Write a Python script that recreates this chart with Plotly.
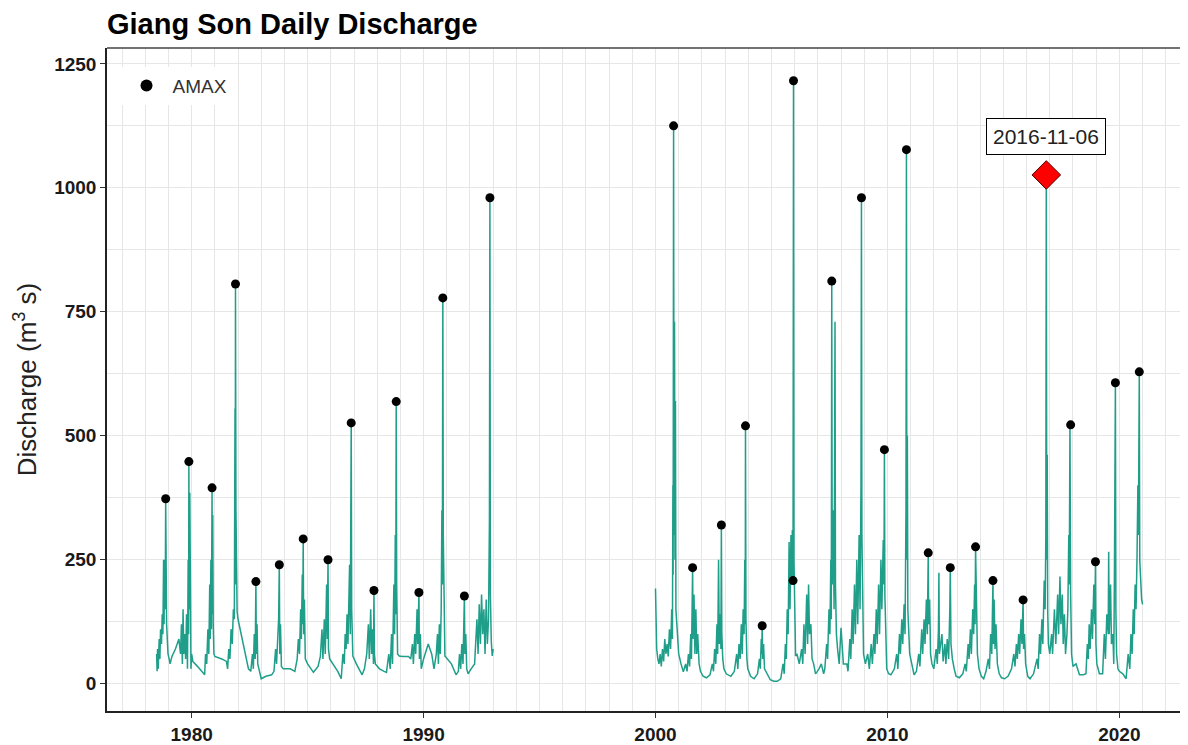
import plotly.graph_objects as go

# ---- daily discharge (hand-read approximation), period 1 ----
t1 = [1978.49, 1978.51, 1978.53, 1978.56, 1978.60, 1978.63, 1978.66, 1978.70, 1978.73, 1978.76,
      1978.79, 1978.81, 1978.84, 1978.86, 1978.88, 1978.90, 1978.92, 1978.95, 1978.98, 1979.03,
      1979.07, 1979.15, 1979.30, 1979.45, 1979.52, 1979.56, 1979.60, 1979.63, 1979.66, 1979.70,
      1979.74, 1979.78, 1979.82, 1979.85, 1979.87, 1979.88, 1979.90, 1979.92, 1979.94, 1979.97,
      1980.00, 1980.05, 1980.25, 1980.50, 1980.56, 1980.60, 1980.65, 1980.70, 1980.74, 1980.78,
      1980.80, 1980.83, 1980.85, 1980.88, 1980.89, 1980.91, 1980.93, 1980.96, 1981.00, 1981.30,
      1981.50, 1981.55, 1981.60, 1981.65, 1981.70, 1981.75, 1981.80, 1981.84, 1981.87, 1981.88,
      1981.89, 1981.91, 1981.93, 1981.96, 1982.00, 1982.25, 1982.45, 1982.55, 1982.62, 1982.66,
      1982.70, 1982.74, 1982.77, 1982.79, 1982.82, 1982.85, 1982.90, 1983.00, 1983.20, 1983.45,
      1983.55, 1983.62, 1983.66, 1983.70, 1983.75, 1983.78, 1983.80, 1983.83, 1983.87, 1983.95,
      1984.25, 1984.45, 1984.55, 1984.60, 1984.65, 1984.70, 1984.73, 1984.77, 1984.79, 1984.81,
      1984.83, 1984.86, 1984.90, 1985.00, 1985.25, 1985.45, 1985.55, 1985.62, 1985.66, 1985.72,
      1985.76, 1985.82, 1985.85, 1985.88, 1985.90, 1985.95, 1986.10, 1986.30, 1986.45, 1986.52,
      1986.58, 1986.62, 1986.66, 1986.70, 1986.74, 1986.78, 1986.81, 1986.84, 1986.88, 1986.90,
      1986.92, 1986.95, 1987.10, 1987.35, 1987.45, 1987.55, 1987.62, 1987.66, 1987.72, 1987.76,
      1987.80, 1987.84, 1987.86, 1987.88, 1987.92, 1988.10, 1988.30, 1988.40, 1988.50, 1988.56,
      1988.62, 1988.66, 1988.72, 1988.75, 1988.78, 1988.80, 1988.82, 1988.84, 1988.88, 1988.95,
      1989.10, 1989.35, 1989.45, 1989.52, 1989.56, 1989.62, 1989.66, 1989.72, 1989.75, 1989.80,
      1989.82, 1989.86, 1989.90, 1990.00, 1990.20, 1990.35, 1990.45, 1990.55, 1990.60, 1990.64,
      1990.68, 1990.72, 1990.76, 1990.79, 1990.81, 1990.83, 1990.85, 1990.88, 1990.92, 1991.20,
      1991.40, 1991.50, 1991.55, 1991.60, 1991.65, 1991.70, 1991.76, 1991.78, 1991.82, 1991.86,
      1991.92, 1992.05, 1992.20, 1992.30, 1992.35, 1992.40, 1992.45, 1992.50, 1992.55, 1992.60,
      1992.65, 1992.70, 1992.75, 1992.80, 1992.84, 1992.86, 1992.88, 1992.92, 1992.96, 1993.00]
q1 = [60, 25, 70, 30, 90, 50, 110, 80, 140, 100,
      250, 120, 250, 150, 373, 180, 120, 90, 60, 50,
      40, 55, 70, 90, 60, 120, 40, 150, 60, 100,
      50, 140, 30, 250, 100, 448, 150, 385, 80, 30,
      60, 45, 35, 20, 18, 60, 40, 110, 60, 200,
      90, 250, 110, 395, 140, 340, 120, 60, 55, 50,
      45, 30, 70, 50, 110, 80, 150, 130, 555, 200,
      808, 350, 200, 145, 130, 70, 30, 25, 60, 30,
      100, 50, 207, 60, 120, 40, 30, 10, 15, 18,
      25, 70, 40, 100, 130, 240, 60, 120, 35, 30,
      30, 25, 50, 90, 60, 150, 90, 220, 120, 292,
      100, 170, 50, 40, 23, 35, 55, 110, 50, 130,
      60, 200, 90, 250, 70, 50, 40, 25, 10, 60,
      40, 100, 70, 140, 80, 160, 240, 100, 527, 150,
      90, 56, 40, 18, 30, 60, 120, 50, 150, 60,
      110, 40, 188, 60, 40, 30, 25, 23, 60, 30,
      100, 40, 200, 100, 300, 140, 570, 200, 60, 56,
      55, 55, 50, 80, 40, 100, 60, 150, 80, 185,
      50, 100, 30, 50, 80, 60, 30, 60, 100, 40,
      120, 60, 150, 350, 200, 778, 300, 150, 56, 40,
      18, 25, 60, 30, 80, 40, 177, 60, 100, 30,
      20, 30, 40, 130, 60, 160, 80, 180, 100, 150,
      60, 170, 80, 130, 330, 980, 180, 85, 56, 70]

# ---- daily discharge (hand-read approximation), period 2 ----
t2 = [2000.00, 2000.02, 2000.05, 2000.10, 2000.15, 2000.20, 2000.25, 2000.30, 2000.35, 2000.40,
      2000.45, 2000.50, 2000.55, 2000.60, 2000.65, 2000.70, 2000.73, 2000.75, 2000.76, 2000.78,
      2000.80, 2000.82, 2000.84, 2000.86, 2000.88, 2000.92, 2000.96, 2001.00, 2001.10, 2001.20,
      2001.30, 2001.36, 2001.42, 2001.47, 2001.52, 2001.55, 2001.60, 2001.62, 2001.66, 2001.70,
      2001.74, 2001.78, 2001.82, 2001.88, 2001.94, 2002.05, 2002.20, 2002.35, 2002.45, 2002.50,
      2002.55, 2002.60, 2002.65, 2002.68, 2002.72, 2002.75, 2002.80, 2002.82, 2002.84, 2002.86,
      2002.90, 2002.95, 2003.05, 2003.25, 2003.40, 2003.50, 2003.55, 2003.60, 2003.65, 2003.70,
      2003.74, 2003.78, 2003.82, 2003.85, 2003.87, 2003.88, 2003.90, 2003.94, 2003.98, 2004.10,
      2004.25, 2004.40, 2004.48, 2004.52, 2004.56, 2004.58, 2004.60, 2004.62, 2004.66, 2004.70,
      2004.80, 2004.95, 2005.10, 2005.25, 2005.40, 2005.50, 2005.55, 2005.60, 2005.64, 2005.68,
      2005.72, 2005.76, 2005.80, 2005.84, 2005.87, 2005.90, 2005.93, 2005.95, 2005.97, 2006.00,
      2006.04, 2006.10, 2006.20, 2006.30, 2006.35, 2006.40, 2006.45, 2006.52, 2006.56, 2006.60,
      2006.64, 2006.70, 2006.75, 2006.82, 2006.90, 2006.98, 2007.05, 2007.15, 2007.25, 2007.30,
      2007.38, 2007.42, 2007.48, 2007.52, 2007.56, 2007.58, 2007.60, 2007.62, 2007.66, 2007.70,
      2007.72, 2007.74, 2007.76, 2007.80, 2007.85, 2007.92, 2008.00, 2008.10, 2008.25, 2008.30,
      2008.38, 2008.42, 2008.48, 2008.52, 2008.58, 2008.62, 2008.68, 2008.72, 2008.78, 2008.82,
      2008.86, 2008.88, 2008.90, 2008.93, 2008.97, 2009.05, 2009.15, 2009.22, 2009.30, 2009.35,
      2009.42, 2009.46, 2009.52, 2009.56, 2009.62, 2009.66, 2009.72, 2009.76, 2009.82, 2009.85,
      2009.87, 2009.89, 2009.93, 2009.97, 2010.05, 2010.15, 2010.30, 2010.40, 2010.45, 2010.52,
      2010.56, 2010.62, 2010.66, 2010.72, 2010.76, 2010.80, 2010.82, 2010.84, 2010.86, 2010.88,
      2010.92, 2010.96, 2011.05, 2011.15, 2011.25, 2011.35, 2011.40, 2011.48, 2011.52, 2011.58,
      2011.62, 2011.68, 2011.72, 2011.76, 2011.78, 2011.82, 2011.86, 2011.92, 2012.00, 2012.10,
      2012.15, 2012.20, 2012.22, 2012.24, 2012.35, 2012.40, 2012.48, 2012.52, 2012.58, 2012.64,
      2012.69, 2012.71, 2012.74, 2012.80, 2012.88, 2012.96, 2013.10, 2013.25, 2013.35, 2013.40,
      2013.48, 2013.52, 2013.58, 2013.62, 2013.68, 2013.72, 2013.76, 2013.78, 2013.80, 2013.84,
      2013.88, 2013.95, 2014.05, 2014.15, 2014.25, 2014.35, 2014.40, 2014.45, 2014.50, 2014.55,
      2014.57, 2014.60, 2014.64, 2014.68, 2014.74, 2014.82, 2014.92, 2015.05, 2015.20, 2015.35,
      2015.45, 2015.50, 2015.56, 2015.60, 2015.66, 2015.70, 2015.76, 2015.80, 2015.85, 2015.87,
      2015.91, 2015.96, 2016.05, 2016.15, 2016.30, 2016.45, 2016.50, 2016.56, 2016.60, 2016.66,
      2016.70, 2016.76, 2016.80, 2016.83, 2016.85, 2016.87, 2016.89, 2016.91, 2016.94, 2017.00,
      2017.08, 2017.12, 2017.20, 2017.26, 2017.34, 2017.38, 2017.44, 2017.48, 2017.54, 2017.58,
      2017.63, 2017.68, 2017.74, 2017.78, 2017.82, 2017.84, 2017.86, 2017.87, 2017.90, 2017.94,
      2018.00, 2018.13, 2018.28, 2018.45, 2018.56, 2018.62, 2018.66, 2018.70, 2018.74, 2018.80,
      2018.84, 2018.90, 2018.94, 2018.97, 2018.99, 2019.03, 2019.14, 2019.28, 2019.35, 2019.40,
      2019.46, 2019.52, 2019.54, 2019.56, 2019.62, 2019.66, 2019.72, 2019.76, 2019.79, 2019.81,
      2019.83, 2019.85, 2019.88, 2019.94, 2020.00, 2020.15, 2020.29, 2020.38, 2020.45, 2020.50,
      2020.55, 2020.60, 2020.64, 2020.68, 2020.72, 2020.76, 2020.80, 2020.82, 2020.84, 2020.86,
      2020.88, 2020.92, 2020.96, 2021.00]
q2 = [192, 130, 70, 50, 40, 60, 35, 70, 45, 90,
      60, 80, 55, 110, 70, 150, 90, 400, 220, 1125,
      300, 730, 250, 570, 150, 120, 70, 60, 40, 24,
      40, 25, 60, 35, 100, 50, 234, 90, 180, 60,
      150, 60, 100, 40, 25, 15, 12, 18, 40, 25,
      70, 40, 120, 60, 250, 80, 140, 70, 320, 100,
      50, 30, 20, 15, 25, 60, 30, 80, 50, 120,
      60, 150, 100, 250, 120, 520, 130, 50, 30, 15,
      10, 20, 50, 30, 90, 60, 117, 50, 80, 30,
      20, 8, 5, 5, 10, 40, 20, 80, 50, 150,
      100, 286, 150, 300, 200, 310, 208, 1216, 250, 100,
      56, 60, 40, 70, 40, 120, 60, 180, 80, 200,
      100, 120, 50, 40, 20, 25, 30, 40, 20, 30,
      80, 50, 150, 100, 250, 130, 812, 200, 350, 150,
      480, 730, 200, 100, 70, 40, 113, 40, 40, 25,
      90, 50, 150, 80, 200, 100, 250, 120, 300, 150,
      400, 980, 300, 120, 60, 40, 60, 30, 80, 40,
      100, 60, 150, 80, 200, 100, 250, 150, 290, 200,
      472, 180, 70, 30, 20, 18, 30, 60, 30, 100,
      60, 130, 80, 160, 100, 350, 1077, 250, 500, 150,
      100, 60, 40, 18, 25, 60, 35, 110, 60, 130,
      80, 170, 100, 264, 120, 170, 60, 40, 30, 70,
      40, 110, 224, 60, 100, 45, 80, 40, 90, 50,
      150, 234, 80, 50, 30, 15, 12, 20, 40, 25,
      80, 50, 110, 60, 150, 100, 200, 120, 276, 180,
      60, 30, 15, 10, 25, 50, 30, 100, 60, 208,
      80, 170, 70, 120, 40, 20, 12, 10, 15, 30,
      60, 35, 80, 50, 100, 60, 130, 80, 169, 70,
      100, 40, 15, 10, 20, 50, 30, 100, 60, 130,
      80, 208, 150, 300, 1026, 250, 462, 150, 80, 60,
      100, 60, 150, 80, 180, 100, 216, 120, 180, 80,
      140, 60, 100, 150, 300, 200, 315, 522, 180, 60,
      35, 40, 18, 18, 20, 80, 50, 120, 70, 150,
      90, 200, 120, 246, 80, 40, 20, 20, 100, 50,
      140, 100, 266, 100, 200, 80, 100, 40, 240, 400,
      607, 150, 60, 30, 25, 20, 10, 60, 30, 100,
      60, 150, 100, 200, 150, 250, 400, 300, 530, 629,
      250, 200, 170, 160]

# ---- annual maxima ----
amax_year = [1978.88, 1979.88, 1980.88, 1981.89, 1982.77, 1983.78, 1984.81, 1985.88, 1986.88,
             1987.86, 1988.82, 1989.80, 1990.83, 1991.76, 1992.86,
             2000.78, 2001.60, 2002.84, 2003.88, 2004.60, 2005.93, 2005.95, 2007.60, 2008.88,
             2009.87, 2010.82, 2011.76, 2012.71, 2013.80, 2014.55, 2015.85, 2017.90,
             2018.97, 2019.83, 2020.86]
amax_q = [373, 448, 395, 806, 206, 240, 292, 250, 526,
          188, 569, 184, 778, 177, 980,
          1125, 234, 320, 520, 117, 208, 1216, 812, 980,
          472, 1077, 264, 234, 276, 208, 169, 522,
          246, 607, 629]

peak_year = [2016.85]
peak_q = [1026]
peak_label = "2016-11-06"

x_ticks = [1980, 1990, 2000, 2010, 2020]
y_ticks = [0, 250, 500, 750, 1000, 1250]

teal = "#1f9e89"
FONT = "Liberation Sans, Arial, sans-serif"

fig = go.Figure()
fig.add_trace(go.Scatter(x=t1, y=q1, mode="lines", line=dict(color=teal, width=1.5),
                         showlegend=False, hoverinfo="skip"))
fig.add_trace(go.Scatter(x=t2, y=q2, mode="lines", line=dict(color=teal, width=1.5),
                         showlegend=False, hoverinfo="skip"))
fig.add_trace(go.Scatter(x=amax_year, y=amax_q, mode="markers", name="AMAX",
                         marker=dict(color="black", size=9)))
fig.add_trace(go.Scatter(x=peak_year, y=peak_q, mode="markers", showlegend=False,
                         marker=dict(symbol="diamond", color="#ff0000", size=22,
                                     line=dict(color="#550000", width=1))))

fig.add_annotation(x=peak_year[0], y=1104, text=peak_label, showarrow=False,
                   font=dict(family=FONT, size=21, color="#222222"),
                   bgcolor="white", bordercolor="black", borderwidth=1, borderpad=6)

# white legend key area covering the grid (as in ggplot legend box)
fig.add_shape(type="rect", xref="paper", yref="paper", x0=0, x1=0.114, y0=0.899, y1=1,
              fillcolor="white", line=dict(width=0), layer="below")

grid = "#e6e6e6"
fig.update_layout(
    width=1180, height=737,
    margin=dict(l=99, r=0, t=40, b=27),
    paper_bgcolor="white", plot_bgcolor="white",
    font=dict(family=FONT, color="#222222"),
    title=dict(text="<b>Giang Son Daily Discharge</b>", x=99/1180, xanchor="left",
               y=1 - 16/737, yanchor="middle",
               font=dict(size=29, color="black")),
    legend=dict(x=0.0125, y=0.972, xanchor="left", yanchor="top", bgcolor="white",
                font=dict(size=19, color="#333333"), itemsizing="constant",
                itemwidth=42, borderwidth=0),
    showlegend=True,
)
fig.update_xaxes(range=[1976.35, 2022.96], tickmode="array", tickvals=x_ticks,
                 ticktext=[f"<b>{v}</b>" for v in x_ticks],
                 tickfont=dict(size=19, color="#1a1a1a", family=FONT),
                 ticks="outside", ticklen=5, tickcolor="#333333",
                 showline=True, linecolor="#222222", linewidth=1.5, mirror=False,
                 showgrid=True, gridcolor=grid, gridwidth=1, zeroline=False,
                 minor=dict(tickmode="array",
                            tickvals=[y for y in range(1977, 2023) if y % 10 != 0],
                            showgrid=True, gridcolor=grid, gridwidth=1, ticks=""))
fig.update_yaxes(range=[-55, 1282], tickmode="array", tickvals=y_ticks,
                 ticktext=[f"<b>{v}</b>" for v in y_ticks],
                 tickfont=dict(size=19, color="#1a1a1a", family=FONT),
                 ticks="outside", ticklen=5, tickcolor="#333333",
                 showline=True, linecolor="#222222", linewidth=1.5, mirror=False,
                 showgrid=True, gridcolor=grid, gridwidth=1, zeroline=False,
                 minor=dict(tickmode="array", tickvals=[125, 375, 625, 875, 1125],
                            showgrid=True, gridcolor=grid, gridwidth=1, ticks=""),
                 title=dict(text="Discharge (m<sup>3</sup> s)",
                            font=dict(size=26, color="#222222"), standoff=10))
# top border of panel
fig.add_shape(type="line", xref="paper", yref="paper", x0=0, x1=1, y0=1, y1=1,
              line=dict(color="#444444", width=1.5))

fig.write_html("out.html")
